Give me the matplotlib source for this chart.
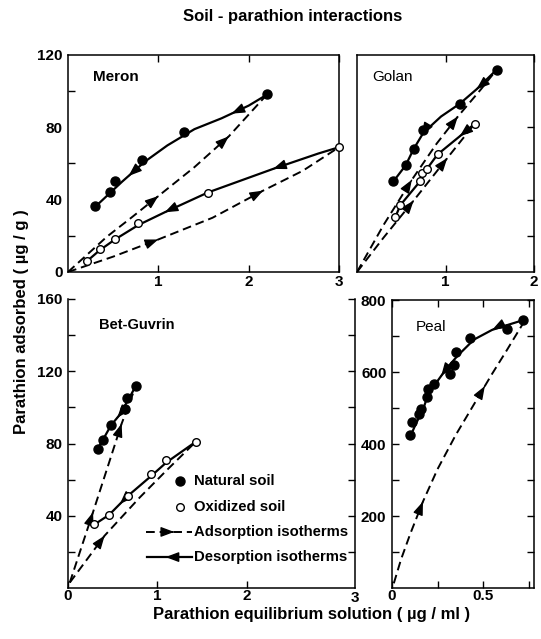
import numpy as np
import matplotlib
matplotlib.use('Agg')
import matplotlib.pyplot as plt

plt.rcParams['font.family'] = ['Liberation Sans', 'DejaVu Sans']
plt.rcParams['font.weight'] = 'bold'

# ---- Meron ----
meron_nat_x = [0.30, 0.47, 0.52, 0.82, 1.28, 2.20]
meron_nat_y = [36.7, 44.1, 50.5, 61.9, 77.3, 98.3]
meron_ox_x = [0.21, 0.35, 0.52, 0.78, 1.55, 3.00]
meron_ox_y = [6.3, 12.5, 18.0, 27.3, 43.9, 68.9]
meron_nat_des_x = [0.30, 0.45, 0.60, 0.85, 1.10, 1.40, 1.70, 2.00, 2.20]
meron_nat_des_y = [36, 43, 50, 61, 70, 79, 85, 92, 98]
meron_nat_ads_x = [0, 0.43, 0.70, 1.00, 1.40, 1.78, 2.20]
meron_nat_ads_y = [0, 19.5, 30, 42, 58, 75, 98]
meron_ox_des_x = [0.21, 0.35, 0.52, 0.78, 1.07, 1.55, 2.27, 2.77, 3.00]
meron_ox_des_y = [6, 12, 18, 26, 33, 44, 57, 65.5, 69]
meron_ox_ads_x = [0, 0.50, 1.00, 1.60, 2.16, 2.60, 3.00]
meron_ox_ads_y = [0, 8.5, 18, 30, 45, 56, 69]

# ---- Golan ----
golan_nat_x = [0.41, 0.55, 0.64, 0.75, 1.16, 1.58]
golan_nat_y = [50.3, 59.0, 68.0, 78.5, 92.9, 111.7]
golan_ox_x = [0.43, 0.49, 0.71, 0.73, 0.79, 0.91, 1.33]
golan_ox_y = [30.2, 37.0, 50.3, 55.0, 56.9, 65.3, 81.9]
golan_nat_des_x = [0.41, 0.55, 0.64, 0.75, 0.95, 1.16, 1.35, 1.58]
golan_nat_des_y = [50, 59, 68, 77, 86, 93, 101, 112]
golan_nat_ads_x = [0, 0.30, 0.62, 0.90, 1.14, 1.40, 1.58]
golan_nat_ads_y = [0, 26, 51, 71, 86, 101, 112]
golan_ox_des_x = [0.43, 0.49, 0.71, 0.79, 0.91, 1.16, 1.33]
golan_ox_des_y = [30, 37, 50, 57, 65, 75, 82]
golan_ox_ads_x = [0, 0.30, 0.64, 1.02, 1.33]
golan_ox_ads_y = [0, 19, 39.5, 63, 82]

# ---- Bet-Guvrin ----
bet_nat_x = [0.33, 0.39, 0.48, 0.64, 0.66, 0.76]
bet_nat_y = [76.8, 82.0, 90.1, 99.0, 105.0, 112.0]
bet_ox_x = [0.29, 0.46, 0.67, 0.93, 1.10, 1.43]
bet_ox_y = [35.3, 40.4, 51.1, 63.1, 70.9, 81.0]
bet_nat_des_x = [0.33, 0.39, 0.48, 0.58, 0.66, 0.76]
bet_nat_des_y = [77, 82, 90, 96, 103, 112]
bet_nat_ads_x = [0.02, 0.28, 0.45, 0.60, 0.76]
bet_nat_ads_y = [3, 42, 68, 91, 112]
bet_ox_des_x = [0.29, 0.46, 0.67, 0.93, 1.10, 1.43]
bet_ox_des_y = [35, 40.5, 51, 62, 69.5, 81]
bet_ox_ads_x = [0.02, 0.41, 0.80, 1.10, 1.43]
bet_ox_ads_y = [3, 29, 50, 65, 81]

# ---- Peal ----
peal_x = [0.10, 0.11, 0.15, 0.16, 0.19, 0.20, 0.23, 0.32, 0.34, 0.35, 0.43, 0.63, 0.72]
peal_y = [425, 460, 483, 497, 530, 552, 566, 594, 619, 656, 694, 719, 744]
peal_des_x = [0.10, 0.13, 0.17, 0.20, 0.25, 0.30, 0.36, 0.45, 0.55, 0.65, 0.72]
peal_des_y = [420, 455, 495, 540, 575, 610, 645, 690, 717, 733, 744]
peal_ads_x = [0.01, 0.05, 0.10, 0.17, 0.25, 0.35, 0.45, 0.55, 0.63, 0.72]
peal_ads_y = [13, 80, 150, 240, 330, 425, 510, 595, 660, 735]

W, H = 541, 639
fig = plt.figure(figsize=(W / 100, H / 100), dpi=100)


def box(l, t, r, b):
    return [l / W, 1 - b / H, (r - l) / W, (b - t) / H]


ax1 = fig.add_axes(box(68, 55, 339, 272))
ax2 = fig.add_axes(box(357, 55, 534, 272))
ax3 = fig.add_axes(box(68, 299, 355, 588))
ax4 = fig.add_axes(box(392, 300, 534, 588))

HEAD = dict(arrowstyle='-|>,head_length=0.8,head_width=0.3', color='k',
            lw=1, shrinkA=0, shrinkB=0, mutation_scale=10)


def curve(ax, xs, ys, dashed, arrows):
    xs = np.asarray(xs, float)
    ys = np.asarray(ys, float)
    if dashed:
        ax.plot(xs, ys, color='k', lw=1.4, ls=(0, (4.5, 2.5)))
    else:
        ax.plot(xs, ys, color='k', lw=1.6)
    for xa in arrows:
        i = int(np.clip(np.searchsorted(xs, xa), 1, len(xs) - 1))
        dx = xs[i] - xs[i - 1]
        dy = ys[i] - ys[i - 1]
        ya = np.interp(xa, xs, ys)
        s = 0.01 if dashed else -0.01
        ax.annotate('', xy=(xa, ya), xytext=(xa - s * dx, ya - s * dy),
                    arrowprops=HEAD)


def pts(ax, xs, ys, filled):
    if filled:
        ax.plot(xs, ys, 'o', color='k', ms=6.5, zorder=5, clip_on=False)
    else:
        ax.plot(xs, ys, 'o', mfc='white', mec='k', mew=1, ms=5.5, zorder=5,
                clip_on=False)


# Meron
curve(ax1, meron_nat_ads_x, meron_nat_ads_y, True, [1.0, 1.78])
curve(ax1, meron_nat_des_x, meron_nat_des_y, False, [1.81, 0.67])
curve(ax1, meron_ox_ads_x, meron_ox_ads_y, True, [1.0, 2.16])
curve(ax1, meron_ox_des_x, meron_ox_des_y, False, [2.27, 1.07])
pts(ax1, meron_nat_x, meron_nat_y, True)
pts(ax1, meron_ox_x, meron_ox_y, False)

# Golan
curve(ax2, golan_nat_ads_x, golan_nat_ads_y, True, [0.62, 1.14])
curve(ax2, golan_nat_des_x, golan_nat_des_y, False, [1.35, 0.73])
curve(ax2, golan_ox_ads_x, golan_ox_ads_y, True, [0.64, 1.02])
curve(ax2, golan_ox_des_x, golan_ox_des_y, False, [1.16])
pts(ax2, golan_nat_x, golan_nat_y, True)
pts(ax2, golan_ox_x, golan_ox_y, False)

# Bet-Guvrin
curve(ax3, bet_nat_ads_x, bet_nat_ads_y, True, [0.28, 0.60])
curve(ax3, bet_nat_des_x, bet_nat_des_y, False, [0.55])
curve(ax3, bet_ox_ads_x, bet_ox_ads_y, True, [0.41])
curve(ax3, bet_ox_des_x, bet_ox_des_y, False, [0.58])
pts(ax3, bet_nat_x, bet_nat_y, True)
pts(ax3, bet_ox_x, bet_ox_y, False)

# Peal
curve(ax4, peal_ads_x, peal_ads_y, True, [0.17, 0.51])
curve(ax4, peal_des_x, peal_des_y, False, [0.55, 0.27])
pts(ax4, peal_x, peal_y, True)

# axes setup
for ax in (ax1, ax2, ax3, ax4):
    for s in ax.spines.values():
        s.set_linewidth(1.1)
    ax.tick_params(which='both', direction='in', length=5, width=1,
                   labelsize=11, pad=4)

ax1.set_xlim(0, 3)
ax1.set_ylim(0, 120)
ax1.set_xticks([1, 2, 3])
ax1.set_yticks([0, 40, 80, 120])
ax1.set_yticks([20, 60, 100], minor=True)
ax1.tick_params(top=True, which='both')
ax1.tick_params(axis='y', which='major', length=0)
ax1.tick_params(axis='x', pad=2.5)

ax2.set_xlim(0, 2)
ax2.set_ylim(0, 120)
ax2.set_xticks([1, 2])
ax2.set_yticks([20, 40, 60, 80, 100])
ax2.tick_params(top=True, left=False, right=True, labelleft=False)
ax2.tick_params(axis='x', pad=2.5)

ax3.set_xlim(0, 3.21)
ax3.set_ylim(0, 160)
ax3.set_xticks([0, 1, 2])
ax3.set_yticks([40, 80, 120, 160])
ax3.set_yticks([20, 60, 100, 140], minor=True)
ax3.spines['top'].set_visible(False)
ax3.tick_params(axis='y', which='both', right=True)
ax3.tick_params(axis='x', pad=1)
# the "3" label sits at the right edge of the lower-left frame
ax3.annotate('3', xy=(1.0, 0.0), xycoords='axes fraction', xytext=(0, -2),
             textcoords='offset points', ha='center', va='top', fontsize=11,
             fontweight='bold', annotation_clip=False)

ax4.set_xlim(0, 0.78)
ax4.set_ylim(0, 800)
ax4.set_xticks([0, 0.5])
ax4.set_xticklabels(['0', '0.5'])
ax4.set_xticks([0.25, 0.75], minor=True)
ax4.set_yticks([200, 400, 600, 800])
ax4.set_yticks([100, 300, 500, 700], minor=True)
ax4.tick_params(which='both', top=True, right=True)
ax4.tick_params(axis='x', pad=1)

for ax in (ax1, ax2, ax3, ax4):
    for lab in ax.get_xticklabels() + ax.get_yticklabels():
        lab.set_fontweight('bold')

ax1.text(0.092, 0.90, 'Meron', transform=ax1.transAxes, fontsize=11,
         fontweight='bold', va='center')
ax2.text(0.085, 0.90, 'Golan', transform=ax2.transAxes, fontsize=11,
         fontweight='normal', va='center')
ax3.text(0.108, 0.91, 'Bet-Guvrin', transform=ax3.transAxes, fontsize=10.5,
         fontweight='bold', va='center')
ax4.text(0.17, 0.906, 'Peal', transform=ax4.transAxes, fontsize=11,
         fontweight='normal', va='center')

# legend (drawn by hand in Bet-Guvrin)
T = ax3.transAxes
ax3.plot([0.39], [0.370], 'o', color='k', ms=6.5, transform=T, clip_on=False)
ax3.plot([0.39], [0.280], 'o', mfc='white', mec='k', mew=1, ms=5.5,
         transform=T, clip_on=False)
ax3.plot([0.272, 0.432], [0.194, 0.194], color='k', lw=1.4,
         ls=(0, (4.5, 2.5)), transform=T)
ax3.annotate('', xy=(0.37, 0.194), xytext=(0.36, 0.194), xycoords=T,
             arrowprops=HEAD)
ax3.plot([0.275, 0.432], [0.107, 0.107], color='k', lw=1.6, transform=T)
ax3.annotate('', xy=(0.34, 0.107), xytext=(0.35, 0.107), xycoords=T,
             arrowprops=HEAD)
for yy, txt in zip([0.370, 0.280, 0.194, 0.107],
                   ['Natural soil', 'Oxidized soil', 'Adsorption isotherms',
                    'Desorption isotherms']):
    ax3.text(0.438, yy, txt, transform=T, fontsize=10.7, fontweight='bold',
             va='center')

fig.text(293 / W, 1 - 17 / H, 'Soil - parathion interactions', ha='center',
         va='center', fontsize=12, fontweight='bold')
fig.text(312 / W, 1 - 614 / H, 'Parathion equilibrium solution ( µg / ml )',
         ha='center', va='center', fontsize=12, fontweight='bold')
fig.text(22 / W, 1 - 322 / H, 'Parathion adsorbed ( µg / g )', ha='center',
         va='center', rotation=90, fontsize=12, fontweight='bold')

fig.savefig('out.png', dpi=100)
